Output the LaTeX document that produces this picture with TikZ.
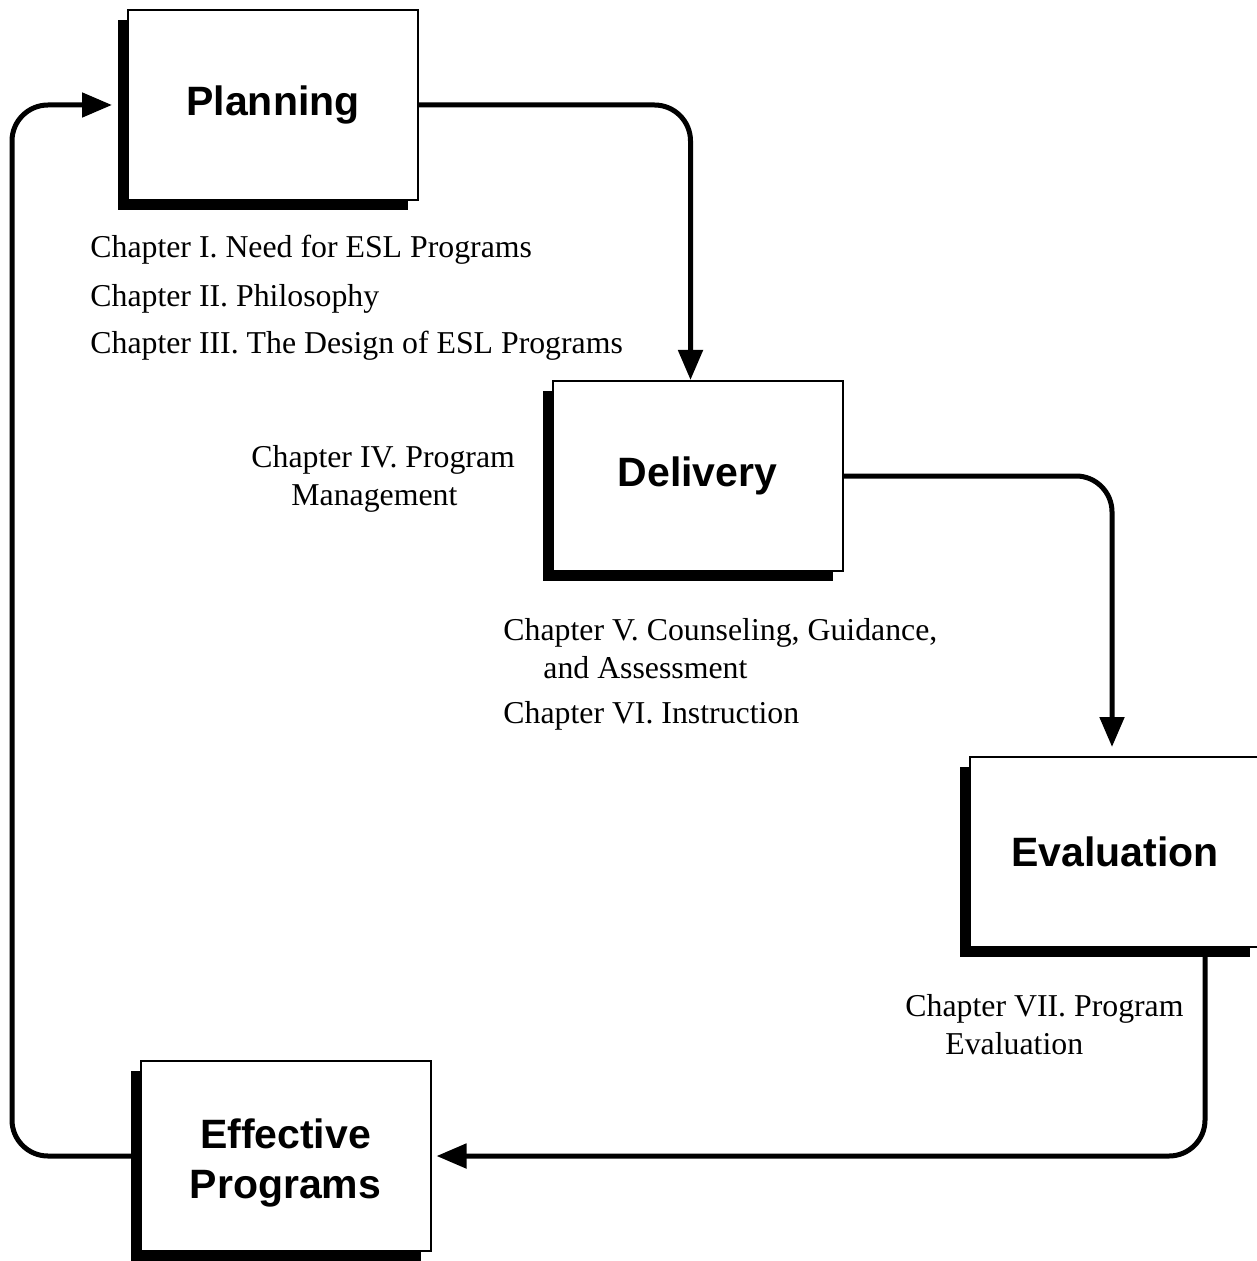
\documentclass[tikz,border=0pt]{standalone}
\usepackage{fontspec}
\setmainfont{Liberation Serif}
\newfontfamily\headfont{Liberation Sans}
\usetikzlibrary{arrows.meta,shadows}

\tikzset{
  box/.style={draw, line width=1pt, fill=white, minimum width=145pt, minimum height=95pt,
    align=center, font=\headfont\bfseries\fontsize{20.5}{25}\selectfont,
    drop shadow={shadow xshift=-5pt, shadow yshift=-5pt, fill=black, opacity=1}},
  flow/.style={line width=2.5pt, rounded corners=18pt, -{Triangle[length=15pt,width=12pt]}},
  chap/.style={anchor=west, align=left, inner sep=0pt, font=\fontsize{15.9}{19}\selectfont}
}

\begin{document}
\begin{tikzpicture}[x=0.5pt,y=-0.5pt]
  \useasboundingbox (0,0) rectangle (1256,1261);

  \node [box] (plan) at (273,105) {Planning};
  \node [box] (deliv) at (697.5,476) {Delivery};
  \node [box] (evalu) at (1115,852) {Evaluation};
  \node [box] (effect) at (285.5,1156) {\rule{0pt}{22pt}Effective\\Programs};

  \node [chap] (chone) at (90,250) {Chapter I. Need for ESL Programs};
  \node [chap] (chtwo) at (90,299) {Chapter II. Philosophy};
  \node [chap] (chthree) at (90,346) {Chapter III. The Design of ESL Programs};
  \node [chap] (chfour) at (251,479) {Chapter IV. Program\\\hspace{20pt}Management};
  \node [chap] (chfive) at (503,649) {Chapter V. Counseling, Guidance,\\\hspace{20pt}and Assessment};
  \node [chap] (chsix) at (503,716) {Chapter VI. Instruction};
  \node [chap] (chseven) at (905,1025) {Chapter VII. Program\\\hspace{20pt}Evaluation};

  \coordinate (leftrail) at (12,0);

  \draw [flow] (plan.east) -| ([xshift=-3.5pt]deliv.north);
  \draw [flow] (deliv.east) -| ([xshift=-1.5pt,yshift=4.5pt]evalu.north);
  \draw [flow] ([xshift=45pt]evalu.south) |- ([xshift=2.5pt]effect.east);
  \draw [flow] (effect.west) -| (leftrail |- plan.west) -- ([xshift=-7.5pt]plan.west);
\end{tikzpicture}
\end{document}
